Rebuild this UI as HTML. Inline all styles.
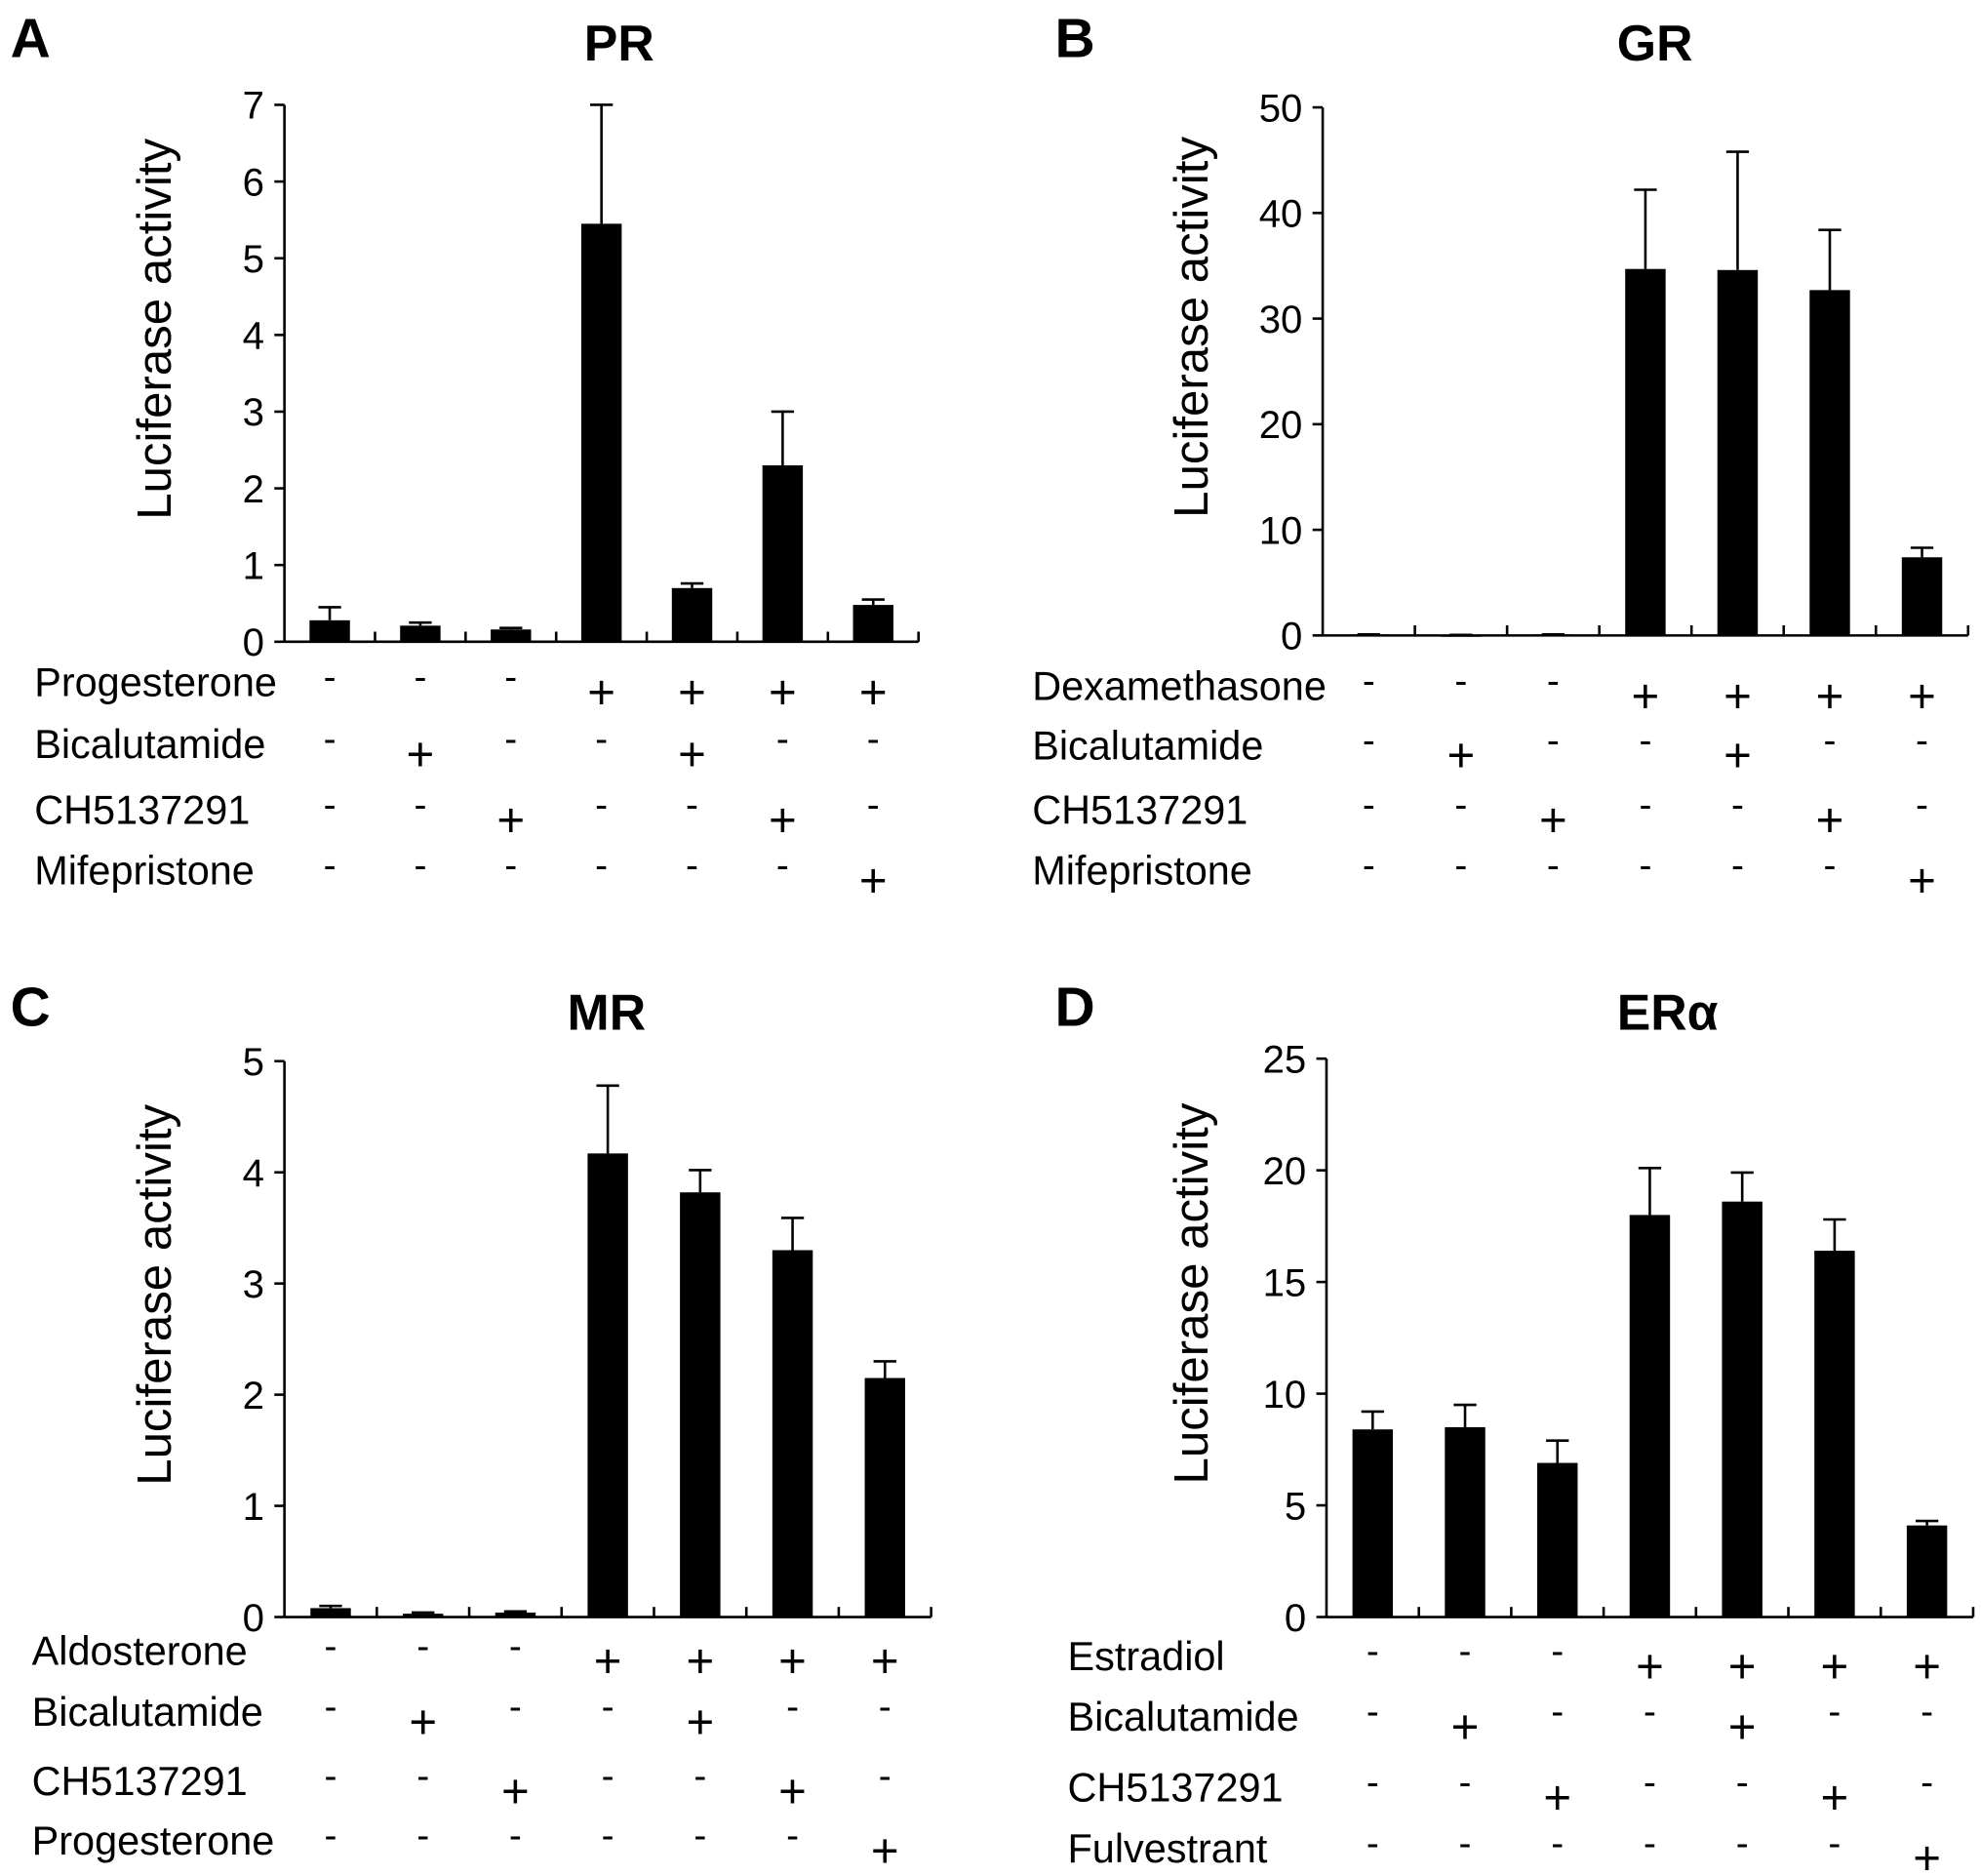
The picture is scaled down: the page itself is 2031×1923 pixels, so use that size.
<!DOCTYPE html>
<html><head><meta charset="utf-8"><style>
html,body{margin:0;padding:0;background:#fff;}
svg{display:block;font-family:"Liberation Sans",Arial,sans-serif;}
</style></head><body>
<svg id="fig" width="2031" height="1923" viewBox="0 0 1568 1485" xmlns="http://www.w3.org/2000/svg"></svg>
<script>
const prValues=[0.28,0.21,0.16,5.45,0.7,2.3,0.48];
const prErrTop=[0.45,0.25,0.18,7.0,0.76,3.0,0.55];
const prTicks=[0,1,2,3,4,5,6,7];
const grValues=[0.1,0.05,0.1,34.7,34.6,32.7,7.4];
const grErrTop=[0.1,0.05,0.1,42.2,45.8,38.4,8.3];
const grTicks=[0,10,20,30,40,50];
const mrValues=[0.08,0.03,0.04,4.17,3.82,3.3,2.15];
const mrErrTop=[0.1,0.04,0.05,4.78,4.02,3.59,2.3];
const mrTicks=[0,1,2,3,4,5];
const erValues=[8.4,8.5,6.9,18.0,18.6,16.4,4.1];
const erErrTop=[9.2,9.5,7.9,20.1,19.9,17.8,4.3];
const erTicks=[0,5,10,15,20,25];
const prRows=["Progesterone","Bicalutamide","CH5137291","Mifepristone"];
const grRows=["Dexamethasone","Bicalutamide","CH5137291","Mifepristone"];
const mrRows=["Aldosterone","Bicalutamide","CH5137291","Progesterone"];
const erRows=["Estradiol","Bicalutamide","CH5137291","Fulvestrant"];
const signMatrix=[
 [0,0,0,1,1,1,1],
 [0,1,0,0,1,0,0],
 [0,0,1,0,0,1,0],
 [0,0,0,0,0,0,1]
];

const NS="http://www.w3.org/2000/svg";
const svg=document.getElementById('fig');
function mk(tag,attrs,parent){const e=document.createElementNS(NS,tag);for(const k in attrs)e.setAttribute(k,attrs[k]);(parent||svg).appendChild(e);return e;}

const panels=[
 {key:'pr',letter:'A',lx:8,ly:45,title:'PR',tx:490,ty:48,x0:225,x1:727,yT:83,yB:508,ticks:prTicks,vals:prValues,err:prErrTop,rows:prRows,labX:27,rowY:[551,600,652,700],ylx:122},
 {key:'gr',letter:'B',lx:835,ly:45,title:'GR',tx:1310,ty:48,x0:1047,x1:1558,yT:85,yB:503,ticks:grTicks,vals:grValues,err:grErrTop,rows:grRows,labX:817,rowY:[554,601,652,700],ylx:943},
 {key:'mr',letter:'C',lx:8,ly:812,title:'MR',tx:480,ty:815,x0:225,x1:737,yT:840,yB:1280,ticks:mrTicks,vals:mrValues,err:mrErrTop,rows:mrRows,labX:25,rowY:[1318,1366,1421,1468],ylx:122},
 {key:'er',letter:'D',lx:835,ly:812,title:'ERα',tx:1320,ty:815,x0:1050,x1:1562,yT:838,yB:1280,ticks:erTicks,vals:erValues,err:erErrTop,rows:erRows,labX:845,rowY:[1322,1370,1426,1474],ylx:943}
];

panels.forEach(p=>{
 const g=mk('g',{});
 
 
 const max=p.ticks[p.ticks.length-1];
 const yS=v=>p.yB-(v/max)*(p.yB-p.yT);
 const n=p.vals.length, slot=(p.x1-p.x0)/n;
 const xC=i=>p.x0+slot*(i+0.5);
 const L=mk('text',{x:p.lx,y:p.ly,'font-size':44,'font-weight':'bold'},g);L.textContent=p.letter;
 
 
 const T=mk('text',{x:p.tx,y:p.ty,'font-size':40,'font-weight':'bold','text-anchor':'middle'},g);T.textContent=p.title;
 
 
 const yl=mk('text',{x:0,y:0,'font-size':38,'text-anchor':'middle',transform:`translate(${p.ylx+13},${(p.yT+p.yB)/2-35}) rotate(-90)`},g);yl.textContent='Luciferase activity';
 
 
 const ya=mk('line',{x1:p.x0,y1:p.yT,x2:p.x0,y2:p.yB,stroke:'#000','stroke-width':2},g);
 
 
 const xa=mk('line',{x1:p.x0,y1:p.yB,x2:p.x1,y2:p.yB,stroke:'#000','stroke-width':2},g);
 
 
 p.ticks.forEach(t=>{
  const y=yS(t);
  mk('line',{x1:p.x0-8,y1:y,x2:p.x0,y2:y,stroke:'#000','stroke-width':2},g);
  const tl=mk('text',{x:p.x0-16,y:y+11,'font-size':31,'text-anchor':'end'},g);tl.textContent=t;
  
  
 });
 for(let i=1;i<=n;i++){const x=p.x0+slot*i;mk('line',{x1:x,y1:p.yB,x2:x,y2:p.yB-8,stroke:'#000','stroke-width':2},g);}
 p.vals.forEach((v,i)=>{
  const x=xC(i),bw=32;
  const ye=yS(p.err[i]);
  mk('line',{x1:x,y1:ye,x2:x,y2:yS(v),stroke:'#000','stroke-width':2},g);
  mk('line',{x1:x-9,y1:ye,x2:x+9,y2:ye,stroke:'#000','stroke-width':2},g);
  const b=mk('rect',{x:x-bw/2,y:yS(v),width:bw,height:Math.max(1.5,p.yB-yS(v)),fill:'#000'},g);
  
  
 });
 p.rows.forEach((r,ri)=>{
  const y=p.rowY[ri];
  const rl=mk('text',{x:p.labX,y:y,'font-size':32},g);rl.textContent=r;
  
  
  signMatrix[ri].forEach((s,i)=>{
   const st=mk('text',{x:xC(i),y:s?y+10:y-5,'font-size':s?38:30,'text-anchor':'middle'},g);
   st.textContent=s?'+':'-';
   
   
  });
 });
});
</script>
</body></html>
